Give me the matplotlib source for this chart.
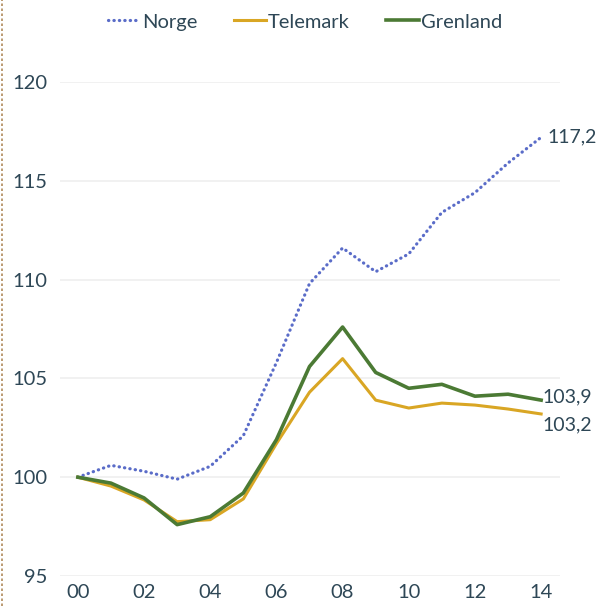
import matplotlib
matplotlib.use("Agg")
import matplotlib.pyplot as plt
from matplotlib.lines import Line2D

# data (index, 2000 = 100)
years = list(range(2000, 2015))
norge = [100.0, 100.6, 100.3, 99.9, 100.55, 102.1, 105.8, 109.8, 111.6, 110.4,
         111.3, 113.4, 114.4, 115.9, 117.2]
telemark = [100.0, 99.55, 98.85, 97.75, 97.85, 98.9, 101.7, 104.3, 106.0, 103.9,
            103.5, 103.75, 103.65, 103.45, 103.2]
grenland = [100.0, 99.7, 98.95, 97.6, 98.0, 99.2, 101.9, 105.6, 107.6, 105.3,
            104.5, 104.7, 104.1, 104.2, 103.9]
xtick_years = [2000, 2002, 2004, 2006, 2008, 2010, 2012, 2014]
xtick_labels = ["00", "02", "04", "06", "08", "10", "12", "14"]
yticks = [95, 100, 105, 110, 115, 120]
end_labels = ["117,2", "103,9", "103,2"]

txt = "#2e4756"
c_norge = "#5a6cc8"
c_tele = "#d9a624"
c_gren = "#4b7a34"

plt.rcParams['font.family'] = ['Lato', 'DejaVu Sans']

fig = plt.figure(figsize=(5.98, 6.06), dpi=100)
ax = fig.add_axes([60/598, 1-576/606, 500/598, (576-82)/606])

ax.plot(years, norge, color=c_norge, lw=2.3, linestyle=(0, (0.1, 1.6)),
        dash_capstyle='round', label="Norge")
ax.plot(years, telemark, color=c_tele, lw=2.2, label="Telemark")
ax.plot(years, grenland, color=c_gren, lw=2.6, label="Grenland")

ax.set_xlim(1999.46, 2014.57)
ax.set_ylim(95, 120)
ax.set_yticks(yticks)
ax.set_yticklabels([str(v) for v in yticks])
ax.set_xticks(xtick_years)
ax.set_xticklabels(xtick_labels)
ax.tick_params(length=0, labelsize=14.5, colors=txt)
ax.tick_params(axis='y', pad=9)
ax.tick_params(axis='x', pad=6)
for s in ax.spines.values():
    s.set_visible(False)
ax.grid(axis='y', color='#efefef', lw=1.2)
ax.set_axisbelow(True)

ax.text(years[-1] + 0.2, norge[-1], end_labels[0], color=txt, fontsize=14,
        va='center', ha='left', clip_on=False)
ax.text(years[-1] + 0.05, grenland[-1] + 0.15, end_labels[1], color=txt, fontsize=14,
        va='center', ha='left', clip_on=False)
ax.text(years[-1] + 0.05, telemark[-1] - 0.55, end_labels[2], color=txt, fontsize=14,
        va='center', ha='left', clip_on=False)

leg = fig.legend(loc='center', bbox_to_anchor=(0.51, 1-22/606), ncol=3, frameon=False,
                 fontsize=14.5, handlelength=1.6, handletextpad=0.1, columnspacing=1.8)
for t in leg.get_texts():
    t.set_color(txt)

# dotted frame line at the left edge
fig.add_artist(Line2D([2/598, 2/598], [0, 1], transform=fig.transFigure,
                      color='#b08a5a', lw=1.2, linestyle=(0, (1.5, 1.5))))

fig.savefig("out.png", dpi=100)
